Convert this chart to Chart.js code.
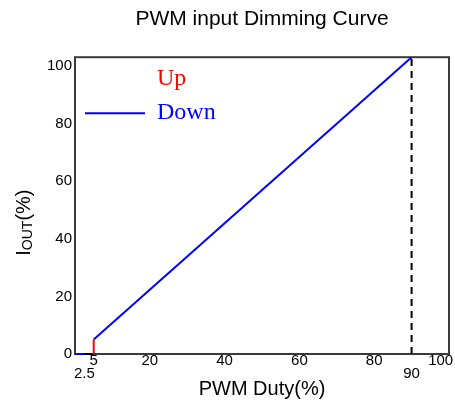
<!DOCTYPE html>
<html>
<head>
<meta charset="utf-8">
<script src="https://cdn.jsdelivr.net/npm/chart.js@4/dist/chart.umd.min.js"></script>
<style>
  html, body { margin: 0; padding: 0; background: #fff; }
  #wrap { width: 455px; height: 403px; position: relative; }
</style>
</head>
<body>
<div id="wrap"><canvas id="dimChart"></canvas></div>
<script>
// values
const upX = [5, 5];
const upY = [0, 5];
const downLowX = [0, 2.5];
const downLowY = [0, 0];
const offX = [2.5, 5];
const offY = [0, 0];
const downX = [5, 90];
const downY = [5, 103];
const markX = [90, 90];
const markY = [0, 103];

const xTicksTop = [5, 20, 40, 60, 80, 100];
const xTicksLow = [2.5, 90];
const yTicks = [0, 20, 40, 60, 80, 100];

const SANS = "'Liberation Sans', Arial, sans-serif";
const SERIF = "'Liberation Serif', 'Times New Roman', serif";

const toPoints = (xs, ys) => xs.map((x, i) => ({ x: x, y: ys[i] }));

// box round the plot, legend moved inside it, y title with its subscript
const framePlugin = {
    id: 'frame',
    afterLayout(chart) {
        // a vertical legend in the chart area gets top = 0, put it back inside
        const lg = chart.legend;
        if (lg) {
            lg.top = chart.chartArea.top;
            lg.bottom = chart.chartArea.bottom;
        }
    },
    beforeDatasetsDraw(chart) {
        const { ctx, chartArea: a } = chart;
        ctx.save();
        ctx.strokeStyle = '#3a3a3a';
        ctx.lineWidth = 2;
        ctx.strokeRect(a.left, a.top, a.right - a.left, a.bottom - a.top);
        ctx.restore();
    },
    afterDraw(chart) {
        const { ctx, chartArea: a } = chart;
        const big = '20px ' + SANS;
        const small = '14px ' + SANS;
        ctx.save();
        ctx.font = big;
        const wI = ctx.measureText('I').width;
        const wP = ctx.measureText('(%)').width;
        ctx.font = small;
        const wO = ctx.measureText('OUT').width;
        const total = wI + wO + wP;
        ctx.translate(a.left - 45, (a.top + a.bottom) / 2 + 17);
        ctx.rotate(-Math.PI / 2);
        ctx.fillStyle = '#000';
        ctx.textBaseline = 'alphabetic';
        ctx.textAlign = 'left';
        let x = -total / 2;
        ctx.font = big;
        ctx.fillText('I', x, 0);
        x += wI;
        ctx.font = small;
        ctx.fillText('OUT', x, 2);
        x += wO;
        ctx.font = big;
        ctx.fillText('(%)', x, 0);
        ctx.restore();
    }
};

const lineSet = (label, xs, ys, color, extra) => Object.assign({
    label: label,
    data: toPoints(xs, ys),
    borderColor: color,
    backgroundColor: color,
    borderWidth: 2,
    pointRadius: 0,
    fill: false,
    tension: 0,
    clip: false
}, extra || {});

const ctx = document.getElementById('dimChart').getContext('2d');

new Chart(ctx, {
    type: 'line',
    data: {
        datasets: [
            lineSet('Up', upX, upY, '#ff0000'),
            lineSet('Down', downX, downY, '#0000ff'),
            lineSet('downLow', downLowX, downLowY, '#0000ff'),
            lineSet('off', offX, offY, '#000000'),
            lineSet('mark', markX, markY, '#000000', { borderDash: [7, 5] })
        ]
    },
    options: {
        responsive: true,
        maintainAspectRatio: false,
        animation: false,
        layout: { padding: { top: 0, right: 6, bottom: 0, left: 0 } },
        scales: {
            x: {
                type: 'linear',
                position: 'bottom',
                min: 0,
                max: 100,
                grid: { display: false, drawTicks: false },
                border: { display: false },
                afterBuildTicks: (scale) => { scale.ticks = xTicksTop.map(v => ({ value: v })); },
                afterFit: (scale) => { scale.height = 13; scale.paddingLeft = 0; scale.paddingRight = 0; },
                ticks: {
                    autoSkip: false,
                    maxRotation: 0,
                    padding: -2,
                    color: '#000',
                    font: { family: SANS, size: 15 },
                    // trailing spaces pull the last label inside the box, as in the picture
                    callback: (v) => v === 100 ? '100\u0020\u0020\u0020\u0020' : String(v)
                }
            },
            x2: {
                type: 'linear',
                position: 'bottom',
                min: 0,
                max: 100,
                grid: { display: false, drawTicks: false },
                border: { display: false },
                afterBuildTicks: (scale) => { scale.ticks = xTicksLow.map(v => ({ value: v })); },
                afterFit: (scale) => { scale.height = 36; scale.paddingLeft = 0; scale.paddingRight = 0; },
                ticks: {
                    autoSkip: false,
                    maxRotation: 0,
                    padding: -2,
                    color: '#000',
                    font: { family: SANS, size: 15 },
                    callback: (v) => String(v)
                },
                title: {
                    display: true,
                    text: 'PWM Duty(%)',
                    color: '#000',
                    font: { family: SANS, size: 20 },
                    padding: { top: 0, bottom: 2 }
                }
            },
            y: {
                type: 'linear',
                min: 0,
                max: 103,
                grid: { display: false, drawTicks: false },
                border: { display: false },
                afterBuildTicks: (scale) => { scale.ticks = yTicks.map(v => ({ value: v })); },
                afterFit: (scale) => { scale.width = 75; scale.paddingTop = 0; scale.paddingBottom = 0; },
                ticks: {
                    padding: 3,
                    color: '#000',
                    font: { family: SANS, size: 15 }
                }
            }
        },
        plugins: {
            title: {
                display: true,
                text: 'PWM input Dimming Curve',
                color: '#000',
                fullSize: false,
                font: { family: SANS, size: 21, weight: 'normal' },
                padding: { top: 7, bottom: 25 }
            },
            legend: {
                position: 'chartArea',
                align: 'start',
                labels: {
                    font: { family: SERIF, size: 24 },
                    boxWidth: 60,
                    boxHeight: 2,
                    padding: 10,
                    filter: (item) => item.text === 'Up' || item.text === 'Down',
                    generateLabels: (chart) => chart.data.datasets.map((ds, i) => ({
                        text: ds.label,
                        datasetIndex: i,
                        fontColor: ds.borderColor,
                        fillStyle: ds.label === 'Up' ? 'rgba(0,0,0,0)' : ds.borderColor,
                        strokeStyle: 'rgba(0,0,0,0)',
                        lineWidth: 0,
                        hidden: false
                    }))
                }
            },
            tooltip: { enabled: false }
        }
    },
    plugins: [framePlugin]
});
</script>
</body>
</html>
